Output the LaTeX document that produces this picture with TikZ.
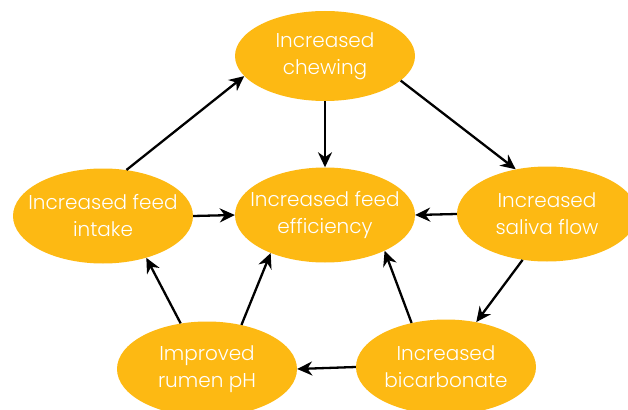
\documentclass[tikz,border=0pt]{standalone}
\usepackage{fontspec}
\setmainfont{Poppins}[UprightFont={* Light}]
\usetikzlibrary{shapes.geometric,arrows.meta}
\definecolor{gold}{HTML}{FDB913}
\begin{document}
\begin{tikzpicture}[x=1pt,y=-1pt,
  oval/.style={ellipse,fill=gold,draw=none,minimum width=180pt,minimum height=95pt,
    inner xsep=-14pt,inner ysep=0pt,
    text=white,align=center,font=\fontsize{20}{27}\selectfont},
  arr/.style={-{Stealth[length=15pt,width=14pt]},line width=2.3pt,black}]
\path[use as bounding box] (0,0) rectangle (628,409);
\clip (0,0) rectangle (628,409);
\node[oval,minimum height=90pt] (chew) at (325,56) {Increased\\chewing};
\node[oval] (eff) at (325,215) {Increased feed\\efficiency};
\node[oval] (intake) at (103,216) {Increased feed\\intake};
\node[oval] (saliva) at (547,214) {Increased\\saliva flow};
\node[oval] (bicarb) at (446,367) {Increased\\bicarbonate};
\node[oval] (ph) at (207,369) {Improved\\rumen pH};
\draw[arr] (intake.63) -- (chew.194);
\draw[arr] (chew.270) -- (eff.90);
\draw[arr] (chew.342) -- (saliva.125);
\draw[arr] (saliva.180) -- (eff.0);
\draw[arr] (intake.0) -- (eff.180);
\draw[arr] (saliva.242) -- (bicarb.56);
\draw[arr] (bicarb.128) -- (eff.329);
\draw[arr] (bicarb.180) -- (ph.0);
\draw[arr] (ph.120) -- (intake.316);
\draw[arr] (ph.52) -- (eff.215);
\end{tikzpicture}
\end{document}
